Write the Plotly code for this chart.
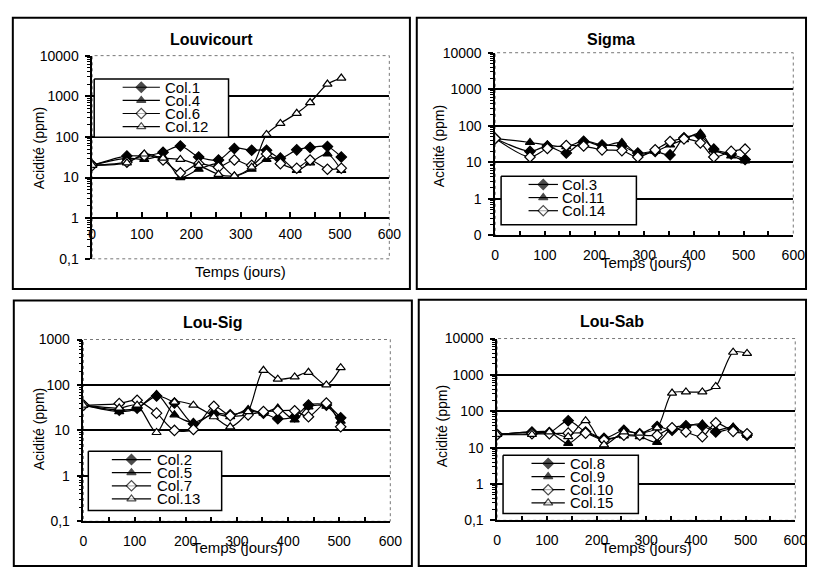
import plotly.graph_objects as go

W, H = 819, 575

# temps de prélèvement (jours), communs à toutes les colonnes
jours = [0, 70, 105, 143, 178, 215, 255, 287, 322, 352, 380, 413, 440, 475, 503]

# Louvicourt
col1 = [20, 34, 34, 42, 60, 32, 27, 52, 47, 47, 30, 48, 55, 58, 32]
col4 = [20, 30, 28, 32, 10, 16, 22, 11, 16, 28, 30, 15, 23, 38, 15]
col6 = [20, 24, 35, 27, 13, 22, 18, 27, 20, 38, 22, 17, 27, 16, 17]
col12 = [20, 23, 38, 30, 28, 20, 12, 11, 18, 115, 215, 380, 700, 2000, 2800]

# Sigma
col3 = [45, 20, 28, 18, 38, 30, 28, 18, 20, 16, 47, 52, 23, 17, 12]
col11 = [45, 35, 30, 27, 38, 28, 35, 17, 20, 30, 42, 63, 22, 15, 11]
col14 = [45, 14, 24, 29, 28, 22, 21, 14, 22, 37, 44, 34, 14, 20, 23]

# Lou-Sig
col2 = [36, 28, 31, 57, 40, 14, 24, 22, 26, 24, 18, 20, 36, 36, 19]
col5 = [36, 26, 30, 62, 22, 15, 23, 20, 29, 24, 31, 17, 33, 34, 16]
col7 = [36, 39, 46, 24, 10, 10.5, 34, 21, 22, 26, 27, 27, 20, 40, 12]
col13 = [36, 31, 36, 9, 42, 36, 20, 12, 26, 210, 134, 150, 190, 100, 240]

# Lou-Sab
col8 = [23, 27, 26, 55, 27, 18, 30, 24, 38, 30, 40, 40, 27, 33, 22]
col9 = [23, 27, 27, 13, 27, 17, 21, 20, 14, 35, 40, 45, 30, 37, 22]
col10 = [23, 24, 24, 25, 25, 16, 22, 22, 22, 35, 27, 20, 48, 28, 24]
col15 = [23, 23, 27, 20, 55, 12, 27, 25, 35, 316, 340, 340, 480, 4200, 3900]

x_ticks = [0, 100, 200, 300, 400, 500, 600]
y_ticks = [0.1, 1, 10, 100, 1000, 10000]

# styles des marqueurs
styles = {
    "losange": dict(symbol="diamond", color="black"),
    "triangle": dict(symbol="triangle-up", color="black"),
    "losange_vide": dict(symbol="diamond", color="white"),
    "triangle_vide": dict(symbol="triangle-up", color="white"),
}

FONT = "Liberation Sans, Arial, sans-serif"


def fx(x):
    return x / W


def fy(y):
    return 1 - y / H


def texte(t, x, y, size, **kw):
    return dict(text=t, x=fx(x), y=fy(y), xref="paper", yref="paper", showarrow=False,
                xanchor=kw.pop("xanchor", "center"), yanchor="middle",
                font=dict(family=FONT, size=size, color="black"), **kw)


# cadre = contour du graphique, zone = zone de traçage (pixels)
panneaux = [
    dict(titre="Louvicourt",
         series=[("Col.1", col1, "losange"), ("Col.4", col4, "triangle"),
                 ("Col.6", col6, "losange_vide"), ("Col.12", col12, "triangle_vide")],
         ymax=4, zero="0,1", cadre=(9, 414, 10, 289), zone=(90, 393, 49, 258), axe_x=216,
         standoff=3, legende=(92, 229, 73, 133), leg_x=(121, 159, 162),
         xtitre=(241, 271), ytitre=(36, 144)),
    dict(titre="Sigma",
         series=[("Col.3", col3, "losange"), ("Col.11", col11, "triangle"),
                 ("Col.14", col14, "losange_vide")],
         ymax=4, zero="0", cadre=(421, 818, 10, 289), zone=(501, 805, 46, 234), axe_x=None,
         standoff=6, legende=(507, 645, 173, 223), leg_x=(535, 565, 567),
         xtitre=(655, 262), ytitre=(444, 142)),
    dict(titre="Lou-Sig",
         series=[("Col.2", col2, "losange"), ("Col.5", col5, "triangle"),
                 ("Col.7", col7, "losange_vide"), ("Col.13", col13, "triangle_vide")],
         ymax=3, zero="0,1", cadre=(10, 416, 301, 574), zone=(81, 394, 341, 528), axe_x=None,
         standoff=6, legende=(86, 222, 456, 517), leg_x=(110, 150, 154),
         xtitre=(238, 555), ytitre=(36, 433)),
    dict(titre="Lou-Sab",
         series=[("Col.8", col8, "losange"), ("Col.9", col9, "triangle"),
                 ("Col.10", col10, "losange_vide"), ("Col.15", col15, "triangle_vide")],
         ymax=4, zero="0,1", cadre=(423, 818, 300, 574), zone=(503, 807, 340, 527), axe_x=None,
         standoff=6, legende=(509, 647, 460, 520), leg_x=(538, 572, 575),
         xtitre=(655, 555), ytitre=(447, 430)),
]

fig = go.Figure()
layout = {}
shapes = []
annotations = []

for i, p in enumerate(panneaux, start=1):
    sfx = "" if i == 1 else str(i)
    xa, ya = "x" + sfx, "y" + sfx
    x0, x1, y0, y1 = p["zone"]

    for nom, vals, st in p["series"]:
        fig.add_trace(go.Scatter(
            x=jours, y=vals, xaxis=xa, yaxis=ya, mode="lines+markers", name=nom,
            line=dict(color="black", width=1.2, shape="spline", smoothing=0.8),
            marker=dict(symbol=styles[st]["symbol"], color=styles[st]["color"], size=8,
                        line=dict(color="black", width=1.2)),
            showlegend=False, hoverinfo="skip"))

    n = p["ymax"] + 2
    minor_vals = [m * 10 ** e for e in range(-1, p["ymax"]) for m in range(2, 10)]
    layout["xaxis" + sfx] = dict(
        domain=[fx(x0), fx(x1)], range=[0, 600], tickvals=x_ticks,
        anchor="free" if p["axe_x"] else ya,
        position=fy(p["axe_x"]) if p["axe_x"] else 0,
        showgrid=False, zeroline=False, showline=True, linecolor="black", linewidth=1.5,
        ticks="inside", ticklen=5, tickcolor="black", tickwidth=1.5,
        minor=dict(dtick=50, ticks="inside", ticklen=5, tickcolor="black", tickwidth=1.5),
        ticklabelstandoff=p["standoff"],
        tickfont=dict(family=FONT, size=14, color="black"), fixedrange=True)
    layout["yaxis" + sfx] = dict(
        domain=[fy(y1), fy(y0)], type="log", range=[-1, p["ymax"]], anchor=xa,
        tickvals=y_ticks[:n], ticktext=[p["zero"]] + [str(v) for v in y_ticks[1:n]],
        showgrid=True, gridcolor="black", gridwidth=1.5, zeroline=False,
        showline=True, linecolor="black", linewidth=1.5,
        ticks="outside", ticklen=5, tickcolor="black", tickwidth=1.5,
        minor=dict(tickvals=minor_vals, ticks="outside", ticklen=3, tickcolor="black",
                   tickwidth=1, showgrid=False),
        ticklabelstandoff=4,
        tickfont=dict(family=FONT, size=14, color="black"), fixedrange=True)

    # bordure pointillée de la zone de traçage
    shapes.append(dict(type="rect", xref=xa + " domain", yref=ya + " domain",
                       x0=0, x1=1, y0=0, y1=1, layer="below",
                       line=dict(color="#777777", width=1, dash="dot")))
    # cadre du graphique
    c0, c1, c2, c3 = p["cadre"]
    shapes.append(dict(type="rect", xref="paper", yref="paper",
                       x0=fx(c0), x1=fx(c1), y0=fy(c3), y1=fy(c2), layer="below",
                       line=dict(color="black", width=2)))

    annotations.append(texte("<b>" + p["titre"] + "</b>", (c0 + c1) / 2, c2 + 22, 16))
    annotations.append(texte("Temps (jours)", p["xtitre"][0], p["xtitre"][1], 15))
    annotations.append(texte("Acidité (ppm)", p["ytitre"][0], p["ytitre"][1], 14, textangle=-90))

    # légende dessinée dans un repère en pixels (x5/y5)
    l0, l1, l2, l3 = p["legende"]
    fig.add_trace(go.Scatter(x=[l0, l1, l1, l0, l0], y=[l2, l2, l3, l3, l2], xaxis="x5", yaxis="y5",
                             mode="lines", fill="toself", fillcolor="white",
                             line=dict(color="black", width=1.5), showlegend=False, hoverinfo="skip"))
    lx0, lx1, tx = p["leg_x"]
    for k, (nom, vals, st) in enumerate(p["series"]):
        ry = l2 + 8.5 + k * 13.5
        fig.add_trace(go.Scatter(x=[lx0, (lx0 + lx1) / 2, lx1], y=[ry, ry, ry], xaxis="x5", yaxis="y5",
                                 mode="lines+markers",
                                 line=dict(color="black", width=1.2),
                                 marker=dict(symbol=styles[st]["symbol"], color=styles[st]["color"],
                                             size=[0, 8, 0], line=dict(color="black", width=[0, 1.2, 0])),
                                 showlegend=False, hoverinfo="skip"))
        annotations.append(texte(nom, tx, ry, 15, xanchor="left"))

layout["xaxis5"] = dict(domain=[0, 1], range=[0, W], visible=False, fixedrange=True)
layout["yaxis5"] = dict(domain=[0, 1], range=[H, 0], visible=False, fixedrange=True)

fig.update_layout(**layout)
fig.update_layout(
    width=W, height=H,
    margin=dict(l=0, r=0, t=0, b=0),
    paper_bgcolor="white", plot_bgcolor="rgba(0,0,0,0)",
    shapes=shapes, annotations=annotations,
    font=dict(family=FONT, color="black"),
    hovermode=False,
)

# la page HTML ajoute une marge de 8 px au body : on la retire
fig.write_html("out.html", config={"displayModeBar": False},
               post_script="document.body.style.margin = '0';")
